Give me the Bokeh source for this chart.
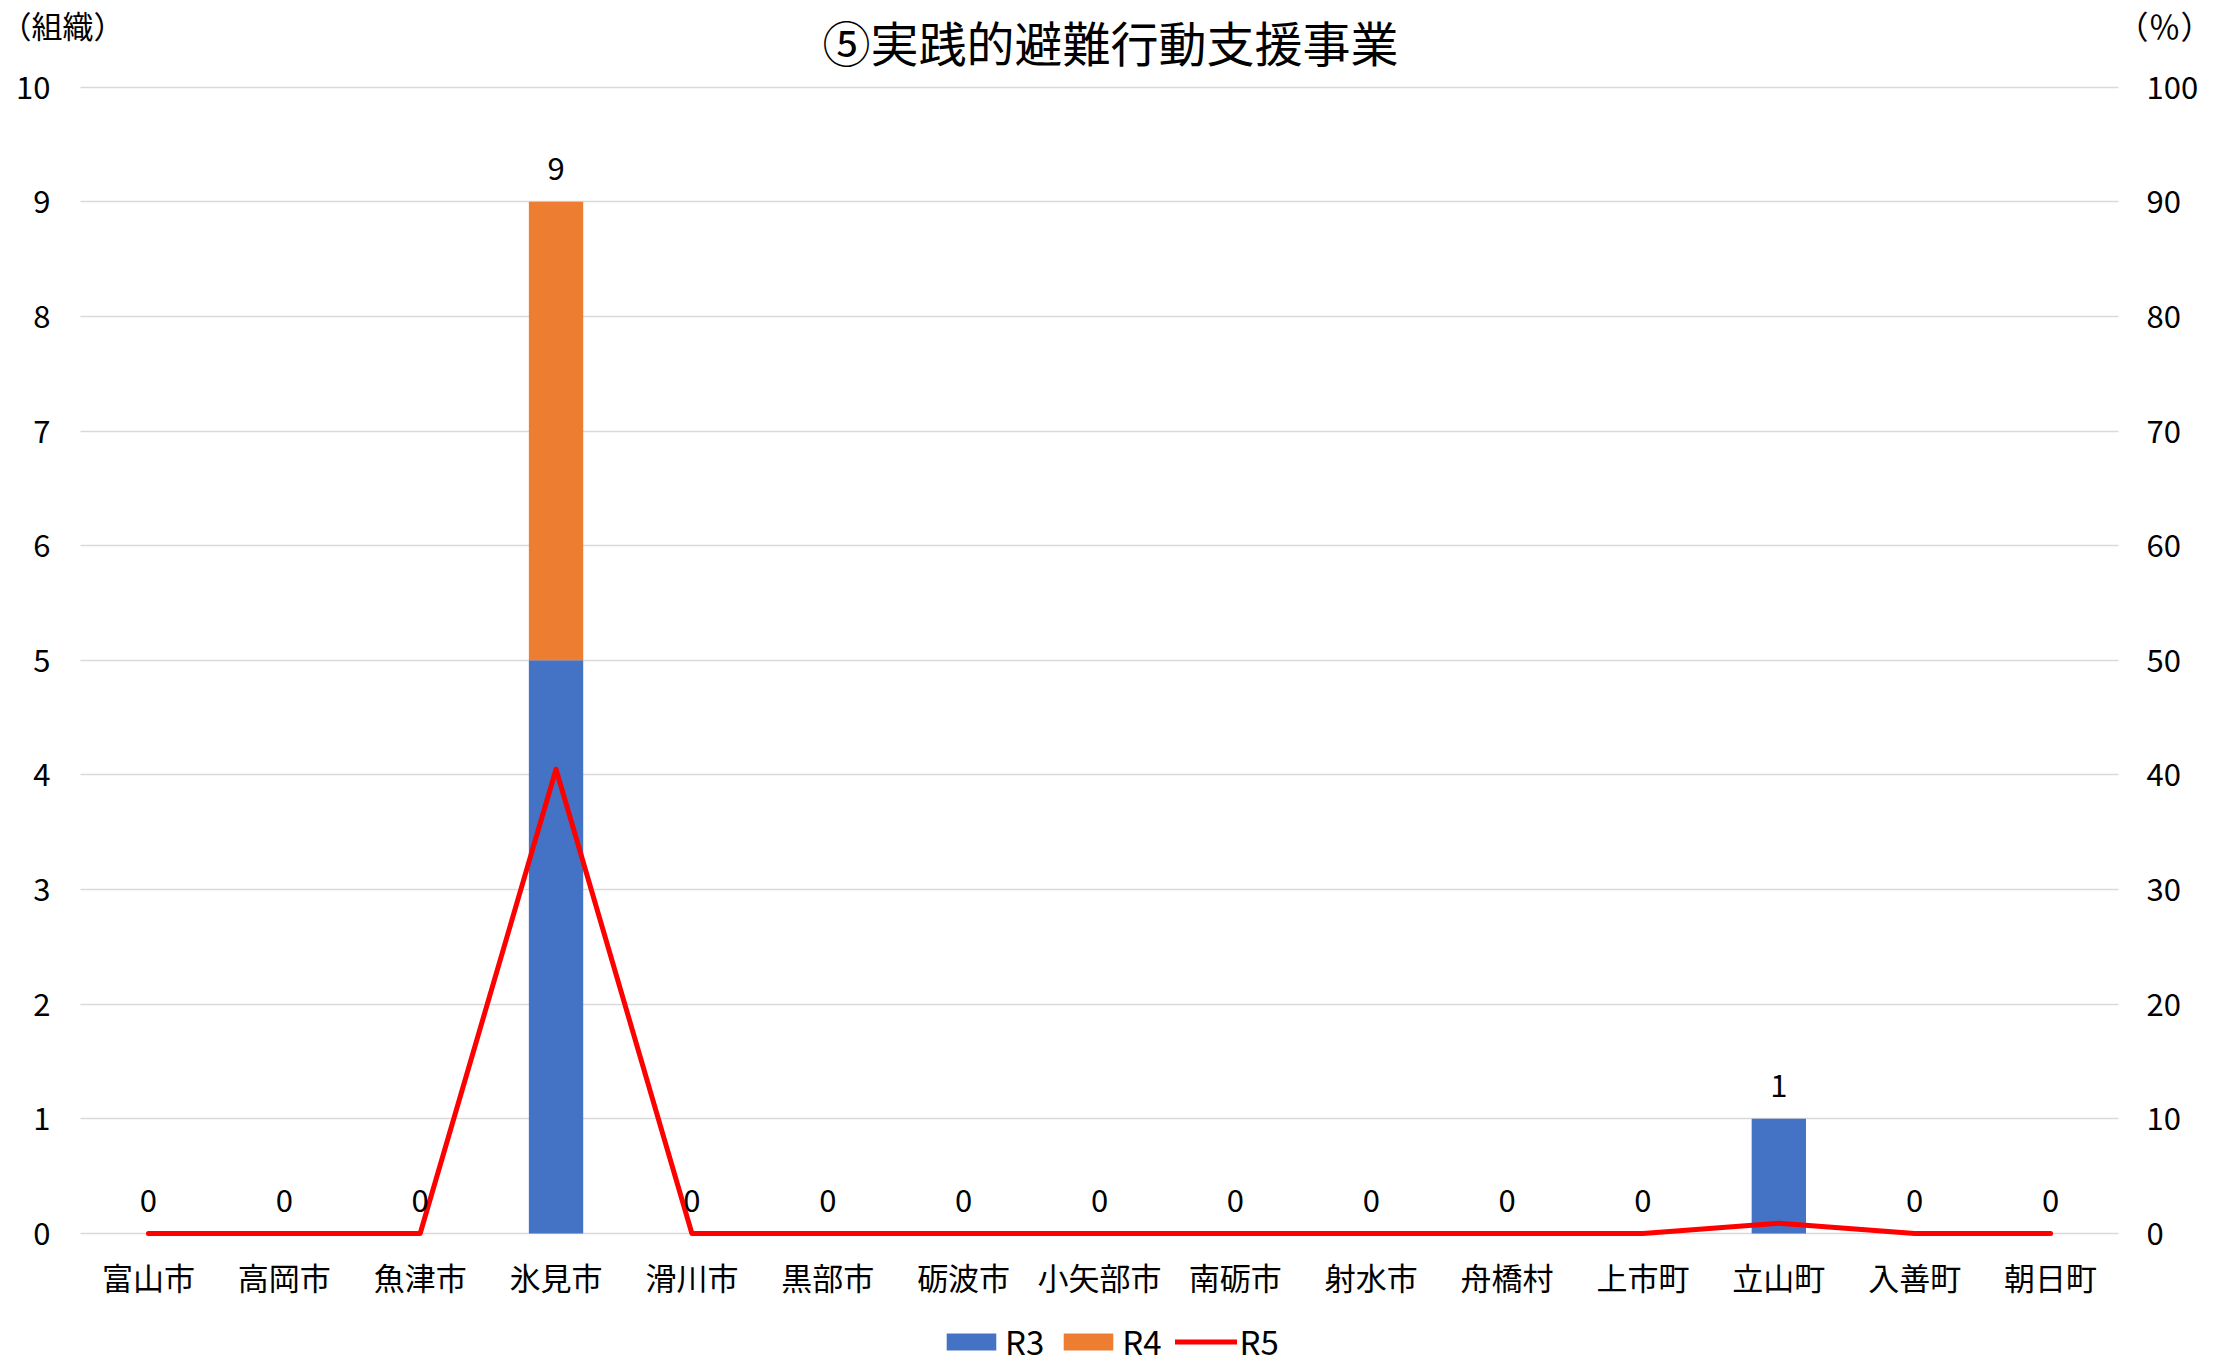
from bokeh.plotting import figure
from bokeh.models import (ColumnDataSource, Range1d, LinearAxis, FixedTicker, Grid,
                          LabelSet, Label, Legend, LegendItem)
from bokeh.core.properties import value
from bokeh.embed import file_html
from bokeh.resources import INLINE

categories = ["富山市", "高岡市", "魚津市", "氷見市", "滑川市", "黒部市", "砺波市", "小矢部市",
              "南砺市", "射水市", "舟橋村", "上市町", "立山町", "入善町", "朝日町"]
r3 = [0, 0, 0, 5, 0, 0, 0, 0, 0, 0, 0, 0, 1, 0, 0]
r4 = [0, 0, 0, 4, 0, 0, 0, 0, 0, 0, 0, 0, 0, 0, 0]
r5 = [0, 0, 0, 40.5, 0, 0, 0, 0, 0, 0, 0, 0, 0.9, 0, 0]
left_ticks = [0, 1, 2, 3, 4, 5, 6, 7, 8, 9, 10]
right_ticks = [0, 10, 20, 30, 40, 50, 60, 70, 80, 90, 100]
title_text = "⑤実践的避難行動支援事業"
left_unit = "（組織）"
right_unit = "（％）"

FONT = "Noto Sans CJK JP"
n = len(categories)
idx = list(range(n))
totals = [a + b for a, b in zip(r3, r4)]
src = ColumnDataSource(dict(x=idx, cat=categories, R3=r3, R4=r4, R5=r5,
                            total=totals, label=[str(t) for t in totals]))

# canvas geometry (pixels)
W, H = 2217, 1367
PL, PR, PT, PB = 80, 2118, 86.7, 1233          # plot-area edges
xu = (PR - PL) / n
yu = (PB - PT) / 10.0
x_start = -0.5 - PL / xu
x_end = n - 0.5 + (W - PR) / xu
y_start = -(H - PB) / yu
y_end = 10 + PT / yu

p = figure(width=W, height=H, title=None,
           x_range=Range1d(x_start, x_end), y_range=Range1d(y_start, y_end),
           output_backend="svg", toolbar_location=None, tools="",
           min_border=0, min_border_left=0, min_border_right=0,
           min_border_top=0, min_border_bottom=0)
p.extra_y_ranges = {"pct": Range1d(y_start * 10, y_end * 10)}
p.outline_line_color = None
p.background_fill_color = "white"
p.border_fill_color = "white"

# gridlines limited to the plot area
p.xgrid.visible = False
yg = p.ygrid[0]
yg.ticker = FixedTicker(ticks=left_ticks)
if "cross_bounds" in Grid.properties():
    yg.grid_line_color = "#D9D9D9"
    yg.grid_line_width = 1.6
    yg.cross_bounds = (-0.5, n - 0.5)
else:
    yg.visible = False
    p.segment(x0=[-0.5] * len(left_ticks), x1=[n - 0.5] * len(left_ticks),
              y0=left_ticks, y1=left_ticks, line_color="#D9D9D9", line_width=1.6)

bars = p.vbar_stack(["R3", "R4"], x="x", width=0.4, source=src,
                    color=["#4472C4", "#ED7D31"], line_color=None)
ln = p.line(x="x", y="R5", source=src, y_range_name="pct", line_color="#FF0000",
            line_width=5, line_join="round", line_cap="round")

def style_axis(ax, standoff):
    ax.axis_line_color = None
    ax.major_tick_line_color = None
    ax.minor_tick_line_color = None
    ax.major_label_text_font = FONT
    ax.major_label_text_font_size = "31px"
    ax.major_label_text_color = "#000000"
    ax.major_label_standoff = standoff

xa = p.xaxis[0]
xa.ticker = FixedTicker(ticks=idx)
xa.major_label_overrides = {i: c for i, c in zip(idx, categories)}
xa.fixed_location = 0
style_axis(xa, 14)

la = p.yaxis[0]
la.ticker = FixedTicker(ticks=left_ticks)
la.fixed_location = -0.5
style_axis(la, 24)

ra = LinearAxis(y_range_name="pct", ticker=FixedTicker(ticks=right_ticks))
ra.fixed_location = n - 0.5
style_axis(ra, 22)
p.add_layout(ra, "right")

# data labels (stack totals)
labels = LabelSet(x="x", y="total", text="label", source=src, y_offset=33,
                  text_align="center", text_baseline="middle", text_font=value(FONT),
                  text_font_size="31px", text_color="#000000")
p.add_layout(labels)

p.add_layout(Label(x=1110, y=H - 40, x_units="screen", y_units="screen", text=title_text,
                   text_align="center", text_baseline="middle", text_font=FONT,
                   text_font_size="48px", text_color="#000000"))
p.add_layout(Label(x=0, y=H - 24, x_units="screen", y_units="screen", text=left_unit,
                   text_align="left", text_baseline="middle", text_font=FONT,
                   text_font_size="31px", text_color="#000000"))
p.add_layout(Label(x=2116, y=H - 24, x_units="screen", y_units="screen", text=right_unit,
                   text_align="left", text_baseline="middle", text_font=FONT,
                   text_font_size="32px", text_color="#000000"))

legend = Legend(items=[LegendItem(label="R3", renderers=[bars[0]]),
                       LegendItem(label="R4", renderers=[bars[1]]),
                       LegendItem(label="R5", renderers=[ln])],
                orientation="horizontal", location=(940, 2),
                glyph_width=62, glyph_height=21, label_standoff=3, spacing=13,
                padding=0, margin=0, border_line_color=None, background_fill_alpha=0,
                label_text_font=FONT, label_text_font_size="33px", label_text_color="#000000")
p.add_layout(legend)

open("out.html", "w").write(file_html(p, INLINE))
